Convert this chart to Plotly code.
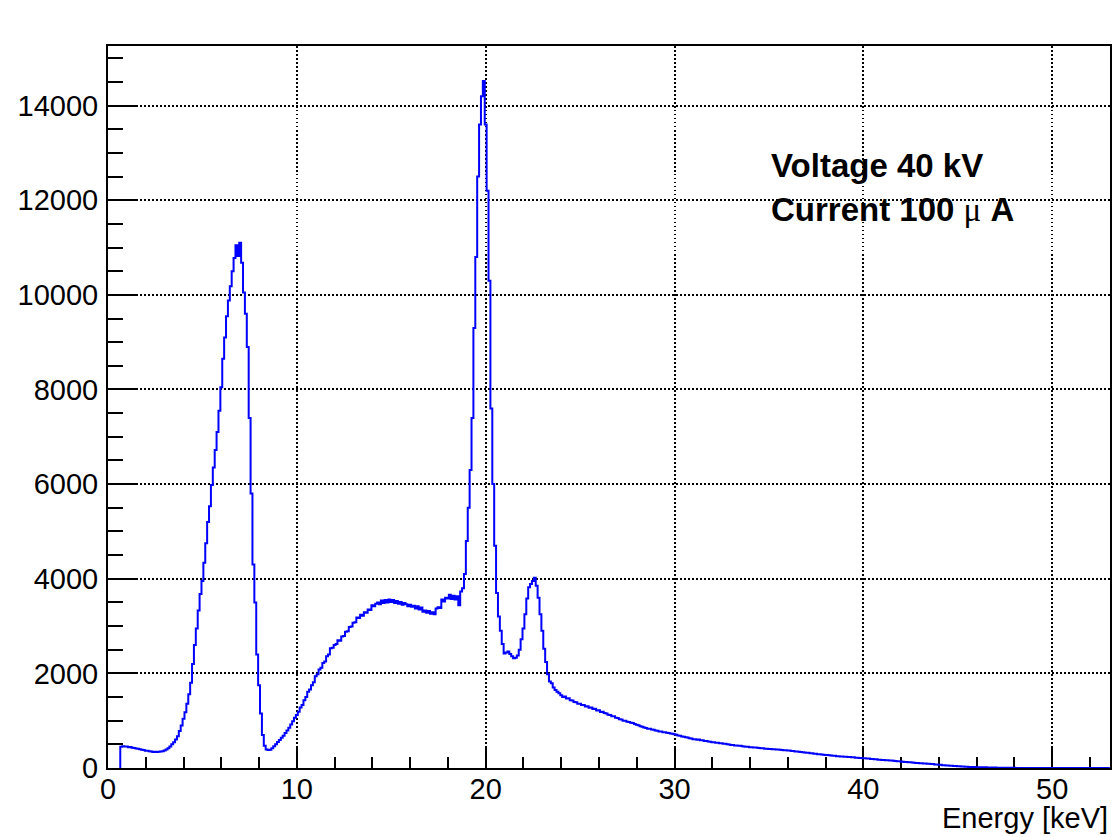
import plotly.graph_objects as go

# ---- data: histogram of X-ray energy spectrum (bin width 0.1 keV) ----
bin_width = 0.1
first_edge = 0.65

# bin centres 0.7 .. 9.9 keV
counts_low = [
    450, 458, 452, 455, 440, 445, 430, 425, 412, 405,
    398, 385, 380, 366, 362, 352, 348, 340, 345, 336,
    342, 348, 356, 370, 390, 420, 455, 500, 545, 600,
    670, 780, 900, 1040, 1180, 1360, 1560, 1800, 2200, 2600,
    2950, 3330, 3680, 3950, 4340, 4750, 5200, 5530, 5980, 6350,
    6720, 7100, 7550, 8050, 8650, 9100, 9550, 9880, 10180, 10500,
    10780, 11050, 10820, 11100, 10680, 10050, 9600, 8900, 7400, 5800,
    4300, 3500, 2400, 1750, 1150, 700, 470, 390, 380, 385,
    420, 460, 500, 550, 590, 640, 680, 740, 790, 850,
    920, 990, 1060,
]

# bin centres 10.0 .. 24.9 keV
counts_mid = [
    1120, 1190, 1280, 1330, 1430, 1500, 1610, 1660, 1750, 1810,
    1940, 1980, 2080, 2120, 2220, 2250, 2360, 2400, 2530, 2540,
    2600, 2620, 2700, 2690, 2780, 2790, 2880, 2890, 2980, 2990,
    3070, 3080, 3180, 3170, 3240, 3220, 3290, 3280, 3350, 3340,
    3440, 3420, 3470, 3500, 3460, 3540, 3490, 3550, 3500, 3560,
    3510, 3550, 3490, 3530, 3470, 3510, 3450, 3490, 3460, 3420,
    3450, 3410, 3430, 3370, 3420, 3350, 3390, 3300, 3330, 3280,
    3320, 3260, 3290, 3250, 3370, 3400, 3380, 3560, 3520, 3600,
    3580, 3660, 3570, 3640, 3560, 3630, 3440, 3730, 3800, 4100,
    4800, 5500, 6300, 7400, 9300, 10800, 12500, 13600, 14200, 14520,
    13600, 12200, 10300, 7600, 6000, 4700, 3700, 3200, 2900, 2620,
    2420, 2440, 2460, 2410, 2360, 2320, 2330, 2380, 2500, 2720,
    2950, 3250, 3580, 3820, 3890, 3950, 4020, 3850, 3600, 3250,
    2900, 2520, 2240, 1980, 1830, 1790, 1700, 1650, 1610, 1580,
    1540, 1500, 1510, 1470, 1475, 1430, 1425, 1395, 1390, 1360,
]

# bin centres 25.0 .. 53.0 keV
counts_tail = [
    1360, 1330, 1330, 1300, 1305, 1275, 1280, 1245, 1250, 1215,
    1220, 1185, 1190, 1160, 1150, 1125, 1120, 1095, 1095, 1060,
    1055, 1030, 1025, 1000, 998, 975, 972, 955, 952, 930,
    912, 905, 882, 874, 855, 848, 832, 828, 812, 808,
    792, 788, 774, 770, 758, 756, 744, 742, 730, 726,
    712, 705, 688, 682, 668, 662, 648, 642, 628, 622,
    610, 610, 598, 600, 588, 584, 572, 570, 560, 556,
    546, 545, 534, 533, 522, 522, 512, 510, 500, 498,
    488, 488, 478, 478, 470, 468, 460, 457, 450, 447,
    440, 440, 432, 434, 426, 422, 416, 415, 408, 406,
    400, 400, 394, 396, 389, 389, 384, 382, 377, 375,
    368, 368, 360, 360, 351, 350, 342, 340, 332, 330,
    322, 320, 312, 310, 302, 300, 292, 291, 284, 282,
    275, 274, 267, 266, 259, 258, 250, 249, 243, 242,
    236, 236, 230, 230, 225, 225, 219, 219, 213, 212,
    207, 206, 200, 199, 192, 191, 184, 183, 176, 175,
    170, 170, 164, 164, 158, 157, 151, 150, 143, 142,
    135, 134, 126, 126, 120, 119, 114, 113, 108, 107,
    102, 101, 96, 95, 90, 89, 84, 82, 76, 75,
    68, 67, 60, 60, 53, 53, 47, 47, 41, 40,
    36, 35, 31, 31, 27, 27, 23, 23, 20, 19,
    18, 17, 16, 15, 14, 14, 12, 11, 10, 9,
    8, 7, 7, 6, 5, 5, 4, 4, 3, 3,
    3, 2, 2, 2, 2, 1, 1, 1, 1, 1,
    1, 1, 0, 1, 0, 0, 1, 0, 0, 0,
    0, 0, 0, 0, 0, 0, 0, 0, 0, 0,
    0, 0, 0, 0, 0, 0, 0, 0, 0, 0,
    0, 0, 0, 0, 0, 0, 0, 0, 0, 0,
    0,
]

x_title = "Energy [keV]"
label_line1 = "Voltage 40 kV"
label_line2 = "Current 100 \u03bc A"

counts = counts_low + counts_mid + counts_tail
n = len(counts)
edges = [round(first_edge + bin_width * i, 4) for i in range(n + 1)]
xs = [edges[0]] + edges
ys = [0] + counts + [counts[-1]]

fig = go.Figure()
fig.add_trace(go.Scatter(
    x=xs, y=ys, mode="lines", line=dict(color="#0000ff", width=2, shape="hv"),
    hoverinfo="skip",
))

font_family = "Liberation Sans, Arial, Helvetica, sans-serif"

fig.update_layout(
    width=1116, height=837,
    margin=dict(l=108, r=4, t=46, b=69, pad=0),
    paper_bgcolor="white", plot_bgcolor="white",
    font=dict(family=font_family, size=28, color="black"),
    showlegend=False,
)

common = dict(
    showline=True, linecolor="black", linewidth=2, mirror=True,
    ticks="inside", tickcolor="black", tickwidth=1.5,
    showgrid=True, gridcolor="black", gridwidth=1.5, griddash="1.5px,2.5px",
    zeroline=False, layer="below traces", tickformat="d",
    tickfont=dict(family=font_family, size=29, color="black"),
)

fig.update_xaxes(
    range=[0, 53.06], tick0=0, dtick=10, ticklen=22, ticklabelstandoff=-6,
    minor=dict(dtick=2, ticks="inside", ticklen=11, tickwidth=1.5, tickcolor="black", showgrid=False),
    **common,
)
fig.update_yaxes(
    range=[0, 15260], tick0=0, dtick=2000, ticklen=30, ticklabelstandoff=2,
    minor=dict(dtick=500, ticks="inside", ticklen=15, tickwidth=1.5, tickcolor="black", showgrid=False),
    **common,
)

fig.add_annotation(
    text=x_title, xref="paper", yref="paper", x=1, y=0,
    xanchor="right", yanchor="middle", yshift=-50, showarrow=False,
    font=dict(family=font_family, size=29, color="black"),
)

mu_html = label_line2.replace("\u03bc", "</b><span style='font-family:Liberation Serif'>\u03bc</span><b>")
fig.add_annotation(
    text="<b>" + label_line1 + "</b>", xref="paper", yref="paper", x=0.660, y=0.835,
    xanchor="left", yanchor="middle", showarrow=False,
    font=dict(family=font_family, size=33, color="black"),
)
fig.add_annotation(
    text="<b>" + mu_html + "</b>", xref="paper", yref="paper", x=0.660, y=0.773,
    xanchor="left", yanchor="middle", showarrow=False,
    font=dict(family=font_family, size=33, color="black"),
)

fig.write_html("out.html")
